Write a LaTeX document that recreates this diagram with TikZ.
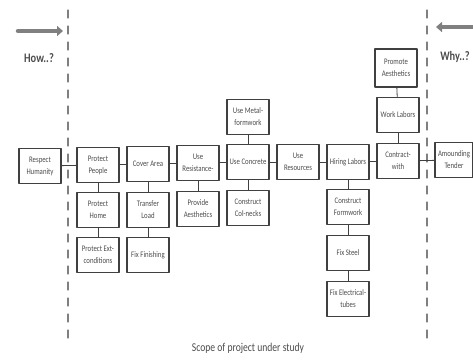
\documentclass[tikz,border=0pt]{standalone}
\usepackage{fontspec}
\setmainfont{Carlito}
\newfontfamily\boxfont[FakeStretch=0.8]{Carlito}
\usepackage{tikz}
\usetikzlibrary{arrows.meta}
\usetikzlibrary{positioning}
\definecolor{boxgray}{rgb}{0.25, 0.25, 0.25}
\definecolor{textgray}{rgb}{0.3, 0.3, 0.3}
\definecolor{arrowgray}{rgb}{0.5, 0.5, 0.5}

\begin{document}
\begin{tikzpicture}[line cap=round,line join=round, x=1pt,y=-1pt,
  task/.style={draw=boxgray, line width=1.8pt, minimum width=42pt, minimum height=35pt,
    inner sep=1pt, align=center, text=textgray, font=\boxfont\fontsize{8.5}{12}\selectfont},
  link/.style={draw=boxgray, line width=0.8pt},
  scopeline/.style={color=arrowgray, line width=1.2pt, dash pattern=on 8pt off 8pt},
  bigarrow/.style={color=arrowgray, line width=4.5pt, -{Triangle[length=6pt, width=10pt]}}]
\useasboundingbox (0,0) rectangle (473,360);
% scope limits
\draw [scopeline] (68,10) -- (68,345);
\draw [scopeline] (427,10) -- (427,345);
\coordinate (howtail) at (18,31);
\coordinate (howtip) at (63,31);
\coordinate (whytail) at (473,27);
\coordinate (whytip) at (436,27);
\draw [bigarrow] (howtail) -- (howtip);
\draw [bigarrow] (whytail) -- (whytip);
\node[text=textgray, font=\boxfont\fontsize{13}{15}\selectfont\bfseries] (how) at (39,58) {How..?};
\node[text=textgray, font=\boxfont\fontsize{13}{15}\selectfont\bfseries] (why) at (455,57) {Why..?};
% main row
\node[task] (respect) at (40,166) {Respect\\Humanity};
\node[task] (people) at (98,165) {Protect\\People};
\node[task] (cover) at (148,164) {Cover Area};
\node[task] (resist) at (198,163) {Use\\Resistance-};
\node[task] (concrete) at (248,162) {Use Concrete};
\node[task] (resources) at (298,162) {Use\\Resources};
\node[task] (hiring) at (348,162) {Hiring Labors};
\node[task] (contract) at (398,161) {Contract-\\with};
\node[task, minimum width=38pt] (tender) at (454,160) {Amounding\\Tender};
% upper boxes
\node[task] (metal) at (248,117) {Use Metal-\\formwork};
\node[task] (work) at (398,115) {Work Labors};
\node[task, minimum height=38pt] (promote) at (396,68) {Promote\\Aesthetics};
% lower boxes
\node[task] (home) at (98,210) {Protect\\Home};
\node[task] (ext) at (98,255) {Protect Ext-\\conditions};
\node[task] (transfer) at (148,210) {Transfer\\Load};
\node[task] (finish) at (148,255) {Fix Finishing};
\node[task] (provide) at (198,209) {Provide\\Aesthetics};
\node[task] (colnecks) at (248,208) {Construct\\Col-necks};
\node[task] (formwork) at (348,207) {Construct\\Formwork};
\node[task] (steel) at (348,253) {Fix Steel};
\node[task] (tubes) at (348,299) {Fix Electrical-\\tubes};
% connectors
\draw [link] (respect) -- (people);
\draw [link] (people) -- (cover);
\draw [link] (cover) -- (resist);
\draw [link] (resist) -- (concrete);
\draw [link] (concrete) -- (resources);
\draw [link] (resources) -- (hiring);
\draw [link] (hiring) -- (contract);
\draw [link] (contract) -- (tender);
\draw [link] (metal) -- (concrete);
\draw [link] (promote) -- (work);
\draw [link] (work) -- (contract);
\draw [link] (people) -- (home);
\draw [link] (home) -- (ext);
\draw [link] (cover) -- (transfer);
\draw [link] (transfer) -- (finish);
\draw [link] (resist) -- (provide);
\draw [link] (concrete) -- (colnecks);
\draw [link] (hiring) -- (formwork);
\draw [link] (formwork) -- (steel);
\draw [link] (steel) -- (tubes);
\node[text=textgray, font=\boxfont\fontsize{12}{14}\selectfont] (scope) at (248,348) {Scope of project under study};
\end{tikzpicture}
\end{document}
